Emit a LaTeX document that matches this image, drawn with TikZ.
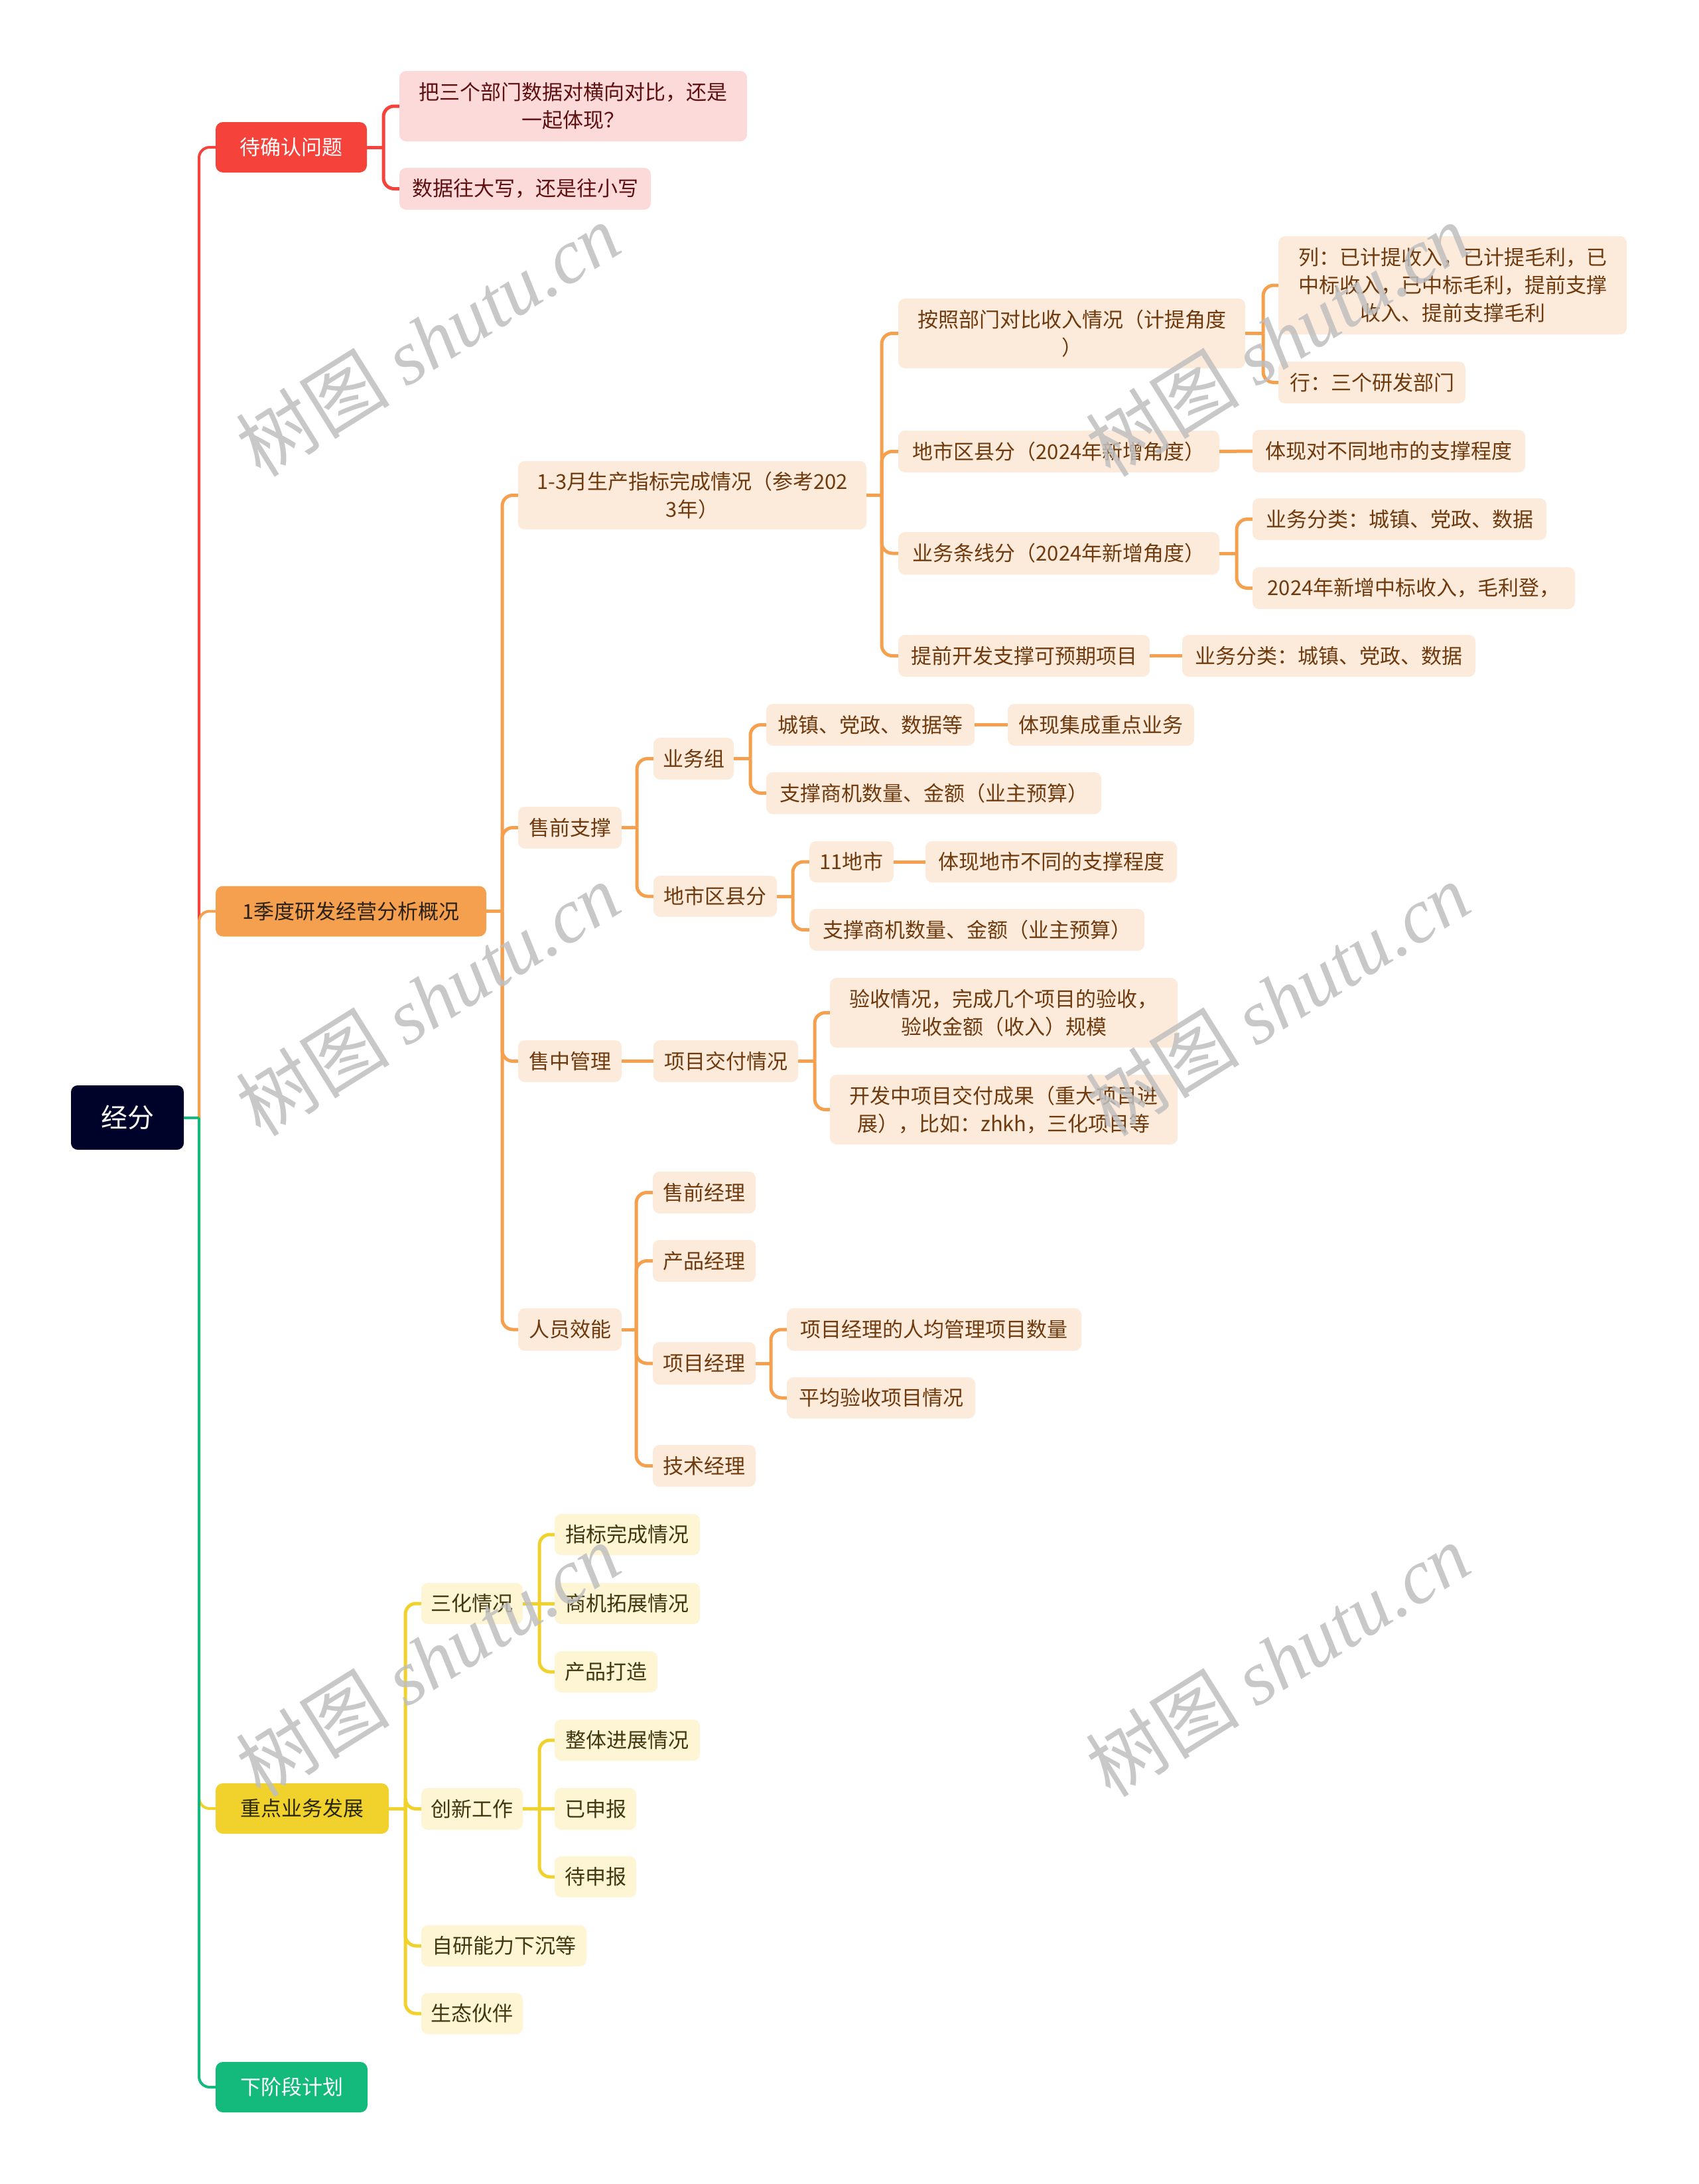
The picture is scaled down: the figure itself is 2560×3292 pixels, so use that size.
\documentclass[tikz,border=0pt]{standalone}
\usepackage{fontspec}
\setmainfont{Noto Sans CJK SC}
\newfontfamily\wmserif{Liberation Serif}
\definecolor{rootc}{HTML}{000329}
\definecolor{redm}{HTML}{F5433B}
\definecolor{redl}{HTML}{FDDADA}
\definecolor{redt}{HTML}{5E1010}
\definecolor{orm}{HTML}{F4A04E}
\definecolor{orl}{HTML}{FCEADB}
\definecolor{ort}{HTML}{6E3A0E}
\definecolor{ordk}{HTML}{2A2118}
\definecolor{yem}{HTML}{F1D12C}
\definecolor{yel}{HTML}{FDF5D3}
\definecolor{yet}{HTML}{40380E}
\definecolor{yedk}{HTML}{2A2810}
\definecolor{grm}{HTML}{13BA7C}
\newcommand\fs{\fontsize{31}{42}\selectfont}
\newcommand\mmstub[3]{\draw[#1] (#2.east) -- (#2.east -| #3);}
\newcommand\mmkid[4]{\draw[#1] (#2.east -| #3) |- (#4.west);}
\newcommand\mmline[3]{\draw[#1] (#2.east) -- (#3.west);}
\tikzset{
  rootn/.style={fill=rootc, text=white, rounded corners=10pt, inner sep=0pt, font=\fontsize{40}{48}\selectfont},
  lone/.style={rounded corners=11pt, inner sep=0pt, minimum height=76pt, font=\fs},
  sub/.style={rounded corners=10pt, inner sep=0pt, minimum height=63pt, align=center, font=\fs},
  rs/.style={sub, fill=redl, text=redt},
  os/.style={sub, fill=orl, text=ort},
  ys/.style={sub, fill=yel, text=yet},
  rl/.style={draw=redm, line width=4pt, rounded corners=16pt},
  ol/.style={draw=orm, line width=4pt, rounded corners=16pt},
  yl/.style={draw=yem, line width=4pt, rounded corners=16pt},
  gl/.style={draw=grm, line width=4pt, rounded corners=16pt},
  rsl/.style={draw=redm, line width=5pt, rounded corners=16pt},
  osl/.style={draw=orm, line width=5pt, rounded corners=16pt},
  ysl/.style={draw=yem, line width=5pt, rounded corners=16pt},
  wm/.style={rotate=32, text=black!25, opacity=0.85, inner sep=0pt}
}
\begin{document}
\begin{tikzpicture}[x=1pt, y=-1pt]
\useasboundingbox (0,0) rectangle (2560,3292);
\fill[white] (0,0) rectangle (2560,3292);

% trunk positions
\coordinate (t0) at (300,0);
\coordinate (tA) at (578,0);
\coordinate (tB) at (757,0);
\coordinate (tB1) at (1329,0);
\coordinate (tB11) at (1904,0);
\coordinate (tB13) at (1864,0);
\coordinate (tB2) at (960,0);
\coordinate (tB21) at (1131,0);
\coordinate (tB22) at (1195,0);
\coordinate (tB31) at (1228,0);
\coordinate (tB4) at (959,0);
\coordinate (tB43) at (1162,0);
\coordinate (tC) at (611,0);
\coordinate (tC1) at (813,0);
\coordinate (tC2) at (813,0);

% root
\node[rootn, minimum width=170pt, minimum height=97pt] (root) at (192,1684.5) {经分};

% level 1
\node[lone, fill=redm, text=white, minimum width=228pt] (A) at (439,222) {待确认问题};
\node[lone, fill=orm, text=ordk, minimum width=408pt] (B) at (529,1373.5) {1季度研发经营分析概况};
\node[lone, fill=yem, text=yedk, minimum width=261pt] (C) at (455.5,2726) {重点业务发展};
\node[lone, fill=grm, text=white, minimum width=229pt] (D) at (439.5,3146) {下阶段计划};

% red branch
\node[rs, minimum width=524pt, minimum height=106pt] (A1) at (864,160) {把三个部门数据对横向对比，还是\\一起体现？};
\node[rs, minimum width=379pt] (A2) at (791.5,284.5) {数据往大写，还是往小写};

% orange branch
\node[os, minimum width=525pt, minimum height=103pt] (B1) at (1043.5,746.5) {1-3月生产指标完成情况（参考202\\3年）};
\node[os, minimum width=156pt] (B2) at (859,1247.5) {售前支撑};
\node[os, minimum width=156pt] (B3) at (859,1599.5) {售中管理};
\node[os, minimum width=156pt, minimum height=64pt] (B4) at (859,2004) {人员效能};

\node[os, minimum width=523pt, minimum height=105pt] (B11) at (1615.5,502.5) {按照部门对比收入情况（计提角度\\）};
\node[os, minimum width=484pt] (B12) at (1596,680.5) {地市区县分（2024年新增角度）};
\node[os, minimum width=484pt, minimum height=64pt] (B13) at (1596,834) {业务条线分（2024年新增角度）};
\node[os, minimum width=379pt] (B14) at (1543.5,988.5) {提前开发支撑可预期项目};

\node[os, minimum width=525pt, minimum height=148pt] (B111) at (2189.5,430) {列：已计提收入，已计提毛利，已\\中标收入，已中标毛利，提前支撑\\收入、提前支撑毛利};
\node[os, minimum width=282pt] (B112) at (2068,576.5) {行：三个研发部门};
\node[os, minimum width=411pt, minimum height=64pt] (B121) at (2093.5,680) {体现对不同地市的支撑程度};
\node[os, minimum width=443pt] (B131) at (2109.5,782.5) {业务分类：城镇、党政、数据};
\node[os, minimum width=486pt] (B132) at (2131,886.5) {2024年新增中标收入，毛利登，};
\node[os, minimum width=442pt] (B141) at (2003,988.5) {业务分类：城镇、党政、数据};

\node[os, minimum width=121pt] (B21) at (1045.5,1143.5) {业务组};
\node[os, minimum width=186pt, minimum height=62pt] (B22) at (1078,1351) {地市区县分};
\node[os, minimum width=314pt] (B211) at (1312,1092.5) {城镇、党政、数据等};
\node[os, minimum width=505pt] (B212) at (1407.5,1195.5) {支撑商机数量、金额（业主预算）};
\node[os, minimum width=281pt] (B2111) at (1659.5,1092.5) {体现集成重点业务};
\node[os, minimum width=127pt, minimum height=62pt] (B221) at (1283.5,1299) {11地市};
\node[os, minimum width=505pt] (B222) at (1472.5,1401.5) {支撑商机数量、金额（业主预算）};
\node[os, minimum width=379pt, minimum height=62pt] (B2211) at (1584.5,1299) {体现地市不同的支撑程度};

\node[os, minimum width=218pt] (B31) at (1094,1599.5) {项目交付情况};
\node[os, minimum width=524pt, minimum height=105pt] (B311) at (1513,1526.5) {验收情况，完成几个项目的验收，\\验收金额（收入）规模};
\node[os, minimum width=524pt, minimum height=105pt] (B312) at (1513,1672.5) {开发中项目交付成果（重大项目进\\展），比如：zhkh，三化项目等};

\node[os, minimum width=155pt] (B41) at (1061.5,1797.5) {售前经理};
\node[os, minimum width=155pt] (B42) at (1061.5,1900.5) {产品经理};
\node[os, minimum width=155pt, minimum height=64pt] (B43) at (1061.5,2055) {项目经理};
\node[os, minimum width=155pt] (B44) at (1061.5,2209.5) {技术经理};
\node[os, minimum width=444pt, minimum height=64pt] (B431) at (1408,2004) {项目经理的人均管理项目数量};
\node[os, minimum width=284pt, minimum height=62pt] (B432) at (1328,2107) {平均验收项目情况};

% yellow branch
\node[ys, minimum width=153pt, minimum height=62pt] (C1) at (711.5,2417) {三化情况};
\node[ys, minimum width=153pt] (C2) at (711.5,2726.5) {创新工作};
\node[ys, minimum width=249pt, minimum height=62pt] (C3) at (759.5,2933) {自研能力下沉等};
\node[ys, minimum width=153pt, minimum height=62pt] (C4) at (711.5,3035) {生态伙伴};
\node[ys, minimum width=219pt, minimum height=62pt] (C11) at (945.5,2313) {指标完成情况};
\node[ys, minimum width=219pt, minimum height=62pt] (C12) at (945.5,2417) {商机拓展情况};
\node[ys, minimum width=155pt, minimum height=62pt] (C13) at (913.5,2520) {产品打造};
\node[ys, minimum width=219pt, minimum height=62pt] (C21) at (945.5,2623) {整体进展情况};
\node[ys, minimum width=123pt] (C22) at (897.5,2726.5) {已申报};
\node[ys, minimum width=123pt, minimum height=62pt] (C23) at (897.5,2829) {待申报};

% ---------- connectors ----------
\mmkid{rl}{root}{t0}{A}
\mmkid{yl}{root}{t0}{C}
\mmkid{ol}{root}{t0}{B}
\mmkid{gl}{root}{t0}{D}
\mmstub{gl}{root}{t0}

% red
\mmstub{rsl}{A}{tA}
\mmkid{rsl}{A}{tA}{A1}
\mmkid{rsl}{A}{tA}{A2}

% orange
\mmstub{osl}{B}{tB}
\mmkid{osl}{B}{tB}{B1}
\mmkid{osl}{B}{tB}{B2}
\mmkid{osl}{B}{tB}{B3}
\mmkid{osl}{B}{tB}{B4}

\mmstub{osl}{B1}{tB1}
\mmkid{osl}{B1}{tB1}{B11}
\mmkid{osl}{B1}{tB1}{B12}
\mmkid{osl}{B1}{tB1}{B13}
\mmkid{osl}{B1}{tB1}{B14}

\mmstub{osl}{B11}{tB11}
\mmkid{osl}{B11}{tB11}{B111}
\mmkid{osl}{B11}{tB11}{B112}
\mmline{osl}{B12}{B121}
\mmstub{osl}{B13}{tB13}
\mmkid{osl}{B13}{tB13}{B131}
\mmkid{osl}{B13}{tB13}{B132}
\mmline{osl}{B14}{B141}

\mmstub{osl}{B2}{tB2}
\mmkid{osl}{B2}{tB2}{B21}
\mmkid{osl}{B2}{tB2}{B22}
\mmstub{osl}{B21}{tB21}
\mmkid{osl}{B21}{tB21}{B211}
\mmkid{osl}{B21}{tB21}{B212}
\mmline{osl}{B211}{B2111}
\mmstub{osl}{B22}{tB22}
\mmkid{osl}{B22}{tB22}{B221}
\mmkid{osl}{B22}{tB22}{B222}
\mmline{osl}{B221}{B2211}

\mmline{osl}{B3}{B31}
\mmstub{osl}{B31}{tB31}
\mmkid{osl}{B31}{tB31}{B311}
\mmkid{osl}{B31}{tB31}{B312}

\mmstub{osl}{B4}{tB4}
\mmkid{osl}{B4}{tB4}{B41}
\mmkid{osl}{B4}{tB4}{B42}
\mmkid{osl}{B4}{tB4}{B43}
\mmkid{osl}{B4}{tB4}{B44}
\mmstub{osl}{B43}{tB43}
\mmkid{osl}{B43}{tB43}{B431}
\mmkid{osl}{B43}{tB43}{B432}

% yellow
\mmstub{ysl}{C}{tC}
\mmkid{ysl}{C}{tC}{C1}
\mmkid{ysl}{C}{tC}{C2}
\mmkid{ysl}{C}{tC}{C3}
\mmkid{ysl}{C}{tC}{C4}
\mmkid{ysl}{C1}{tC1}{C11}
\mmline{ysl}{C1}{C12}
\mmkid{ysl}{C1}{tC1}{C13}
\mmkid{ysl}{C2}{tC2}{C21}
\mmline{ysl}{C2}{C22}
\mmkid{ysl}{C2}{tC2}{C23}

% watermarks
\foreach \wx/\wy [count=\wi] in {645/512, 1926/512, 645/1506, 1926/1506, 645/2502, 1926/2502}{
  \node[wm] (wm\wi) at (\wx,\wy) {\fontsize{116}{126}\selectfont 树图 {\wmserif\itshape shutu.cn}};
}
\end{tikzpicture}
\end{document}
